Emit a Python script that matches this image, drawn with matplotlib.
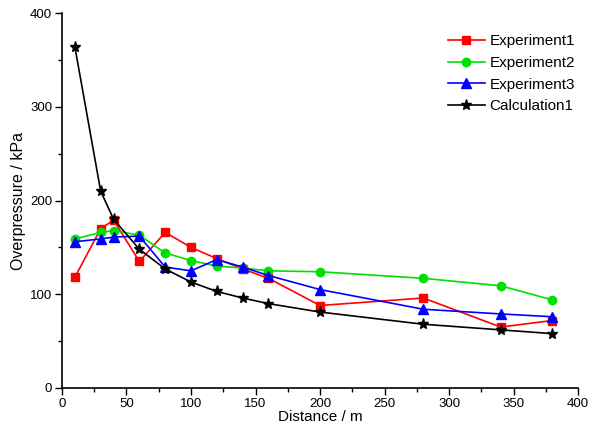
import matplotlib
matplotlib.use('Agg')
import matplotlib.pyplot as plt
from matplotlib.ticker import MultipleLocator

plt.rcParams['font.family'] = ['Liberation Sans', 'DejaVu Sans']

distance = [10, 30, 40, 60, 80, 100, 120, 140, 160, 200, 280, 340, 380]
exp1 = [118, 170, 179, 135, 166, 150, 138, 127, 117, 88, 96, 65, 72]
exp2 = [159, 166, 168, 163, 144, 136, 130, 128, 125, 124, 117, 109, 94]
exp3 = [156, 159, 161, 162, 129, 125, 137, 129, 120, 105, 84, 79, 76]
calc1 = [364, 210, 180, 148, 127, 113, 103, 96, 90, 81, 68, 62, 58]

fig = plt.figure(figsize=(5.9, 4.34), dpi=100)
ax = fig.add_axes([0.105, 0.106, 0.875, 0.864])

ax.plot(distance, exp1, color='#ff0000', marker='s', markersize=6, lw=1.2, label='Experiment1')
ax.plot(distance, exp2, color='#00e000', marker='o', markersize=6, lw=1.2, label='Experiment2')
ax.plot(distance, exp3, color='#0000ff', marker='^', markersize=7, lw=1.2, label='Experiment3')
ax.plot(distance, calc1, color='black', marker='*', markersize=8, lw=1.2, label='Calculation1')

ax.set_xlim(0, 400)
ax.set_ylim(0, 400)
ax.xaxis.set_major_locator(MultipleLocator(50))
ax.xaxis.set_minor_locator(MultipleLocator(25))
ax.yaxis.set_major_locator(MultipleLocator(100))
ax.yaxis.set_minor_locator(MultipleLocator(50))
ax.tick_params(which='major', direction='out', length=5, width=1, labelsize=9.5, pad=2)
ax.tick_params(which='minor', direction='out', length=3, width=1)
ax.spines['top'].set_visible(False)
ax.spines['right'].set_visible(False)
ax.spines['left'].set_linewidth(1.2)
ax.spines['bottom'].set_linewidth(1.2)

ax.set_xlabel('Distance / m', fontsize=11, labelpad=0)
ax.set_ylabel('Overpressure / kPa', fontsize=11.5, labelpad=3)

ax.legend(loc='upper right', bbox_to_anchor=(1.02, 0.98), frameon=False, fontsize=11,
          handlelength=2.4, labelspacing=0.5, handletextpad=0.3)

fig.savefig('out.png', dpi=100)
